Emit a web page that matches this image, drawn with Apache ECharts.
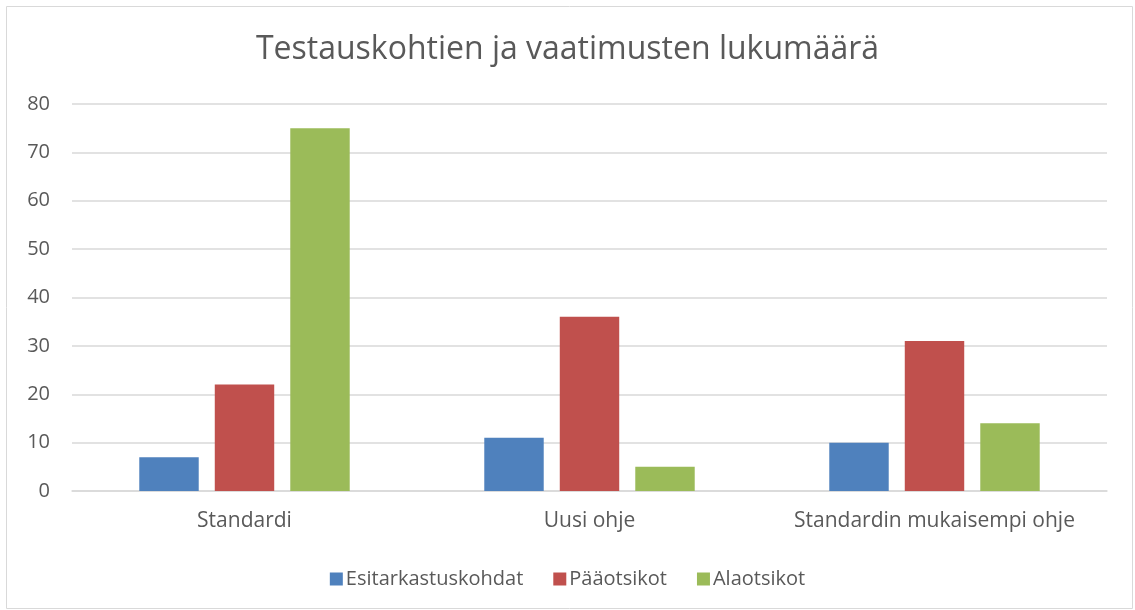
<!DOCTYPE html>
<html><head><meta charset="utf-8">
<script src="https://cdn.jsdelivr.net/npm/echarts@6/dist/echarts.min.js"></script>
<style>html,body{margin:0;padding:0;background:#fff}#c{width:1135px;height:610px}</style>
</head><body><div id="c"></div>
<script>
const categories = ["Standardi", "Uusi ohje", "Standardin mukaisempi ohje"];
const esitarkastuskohdat = [7, 11, 10];
const paaotsikot = [22, 36, 31];
const alaotsikot = [75, 5, 14];
const seriesNames = ["Esitarkastuskohdat", "Pääotsikot", "Alaotsikot"];
const colors = ["#4F81BD", "#C0504D", "#9BBB59"];

const chart = echarts.init(document.getElementById('c'));
const font = "'Open Sans', 'Noto Sans', sans-serif";
const mk = (name, data, color) => ({
  name, type: 'bar', data, barGap: '27%', barCategoryGap: '39%',
  itemStyle: { color }, emphasis: { disabled: true }
});
chart.setOption({
  animation: false,
  textStyle: { fontFamily: font },
  graphic: [{ type: 'rect', shape: { x: 6.5, y: 6.5, width: 1126, height: 602 },
    style: { fill: 'none', stroke: '#d9d9d9', lineWidth: 1 }, z: -1 }],
  title: { text: "Testauskohtien ja vaatimusten lukumäärä", left: 'center', top: 29,
    textStyle: { fontFamily: font, fontSize: 32, fontWeight: 'normal', color: '#595959' } },
  legend: { bottom: 16, left: 'center', itemWidth: 13, itemHeight: 13, itemGap: 30,
    icon: 'rect', textStyle: { fontFamily: font, fontSize: 20, color: '#595959', padding: [0,0,0,-2] },
    data: seriesNames },
  grid: { left: 72, right: 28, top: 104, bottom: 119, containLabel: false },
  xAxis: { type: 'category', data: categories,
    axisLine: { lineStyle: { color: '#d9d9d9', width: 1.5 } }, axisTick: { show: false },
    axisLabel: { fontFamily: font, fontSize: 21, color: '#595959', margin: 20, interval: 0, hideOverlap: false } },
  yAxis: { type: 'value', min: 0, max: 80, interval: 10,
    axisLine: { show: false }, axisTick: { show: false },
    splitLine: { lineStyle: { color: '#d9d9d9', width: 1.5 } },
    axisLabel: { fontFamily: font, fontSize: 20, color: '#595959', margin: 22 } },
  series: [
    mk(seriesNames[0], esitarkastuskohdat, colors[0]),
    mk(seriesNames[1], paaotsikot, colors[1]),
    mk(seriesNames[2], alaotsikot, colors[2])
  ]
});
</script></body></html>
